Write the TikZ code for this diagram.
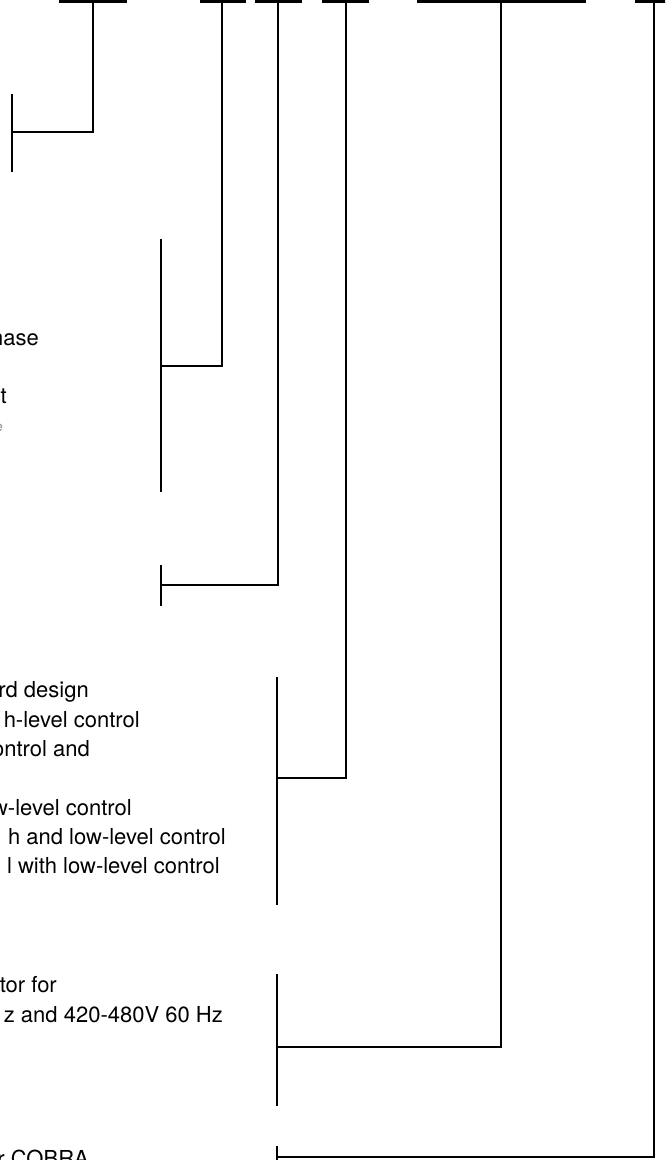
\documentclass[tikz,border=0pt]{standalone}
\usepackage{fontspec}
\setmainfont{TeX Gyre Heros}
\begin{document}
\begin{tikzpicture}[x=1pt,y=-1pt,
  wire/.style={line width=1.6pt,line cap=butt},
  topbar/.style={line width=5.4pt},
  lbl/.style={anchor=base east,inner sep=0pt,font=\fontsize{22}{29}\selectfont},
  tiny/.style={anchor=base east,inner sep=0pt,font=\fontsize{14}{16}\selectfont,text=black!45}]
\useasboundingbox (0,0) rectangle (665,1160);
\clip (0,0) rectangle (665,1160);
% top bars
\coordinate (b1l) at (59,0);  \coordinate (b1r) at (127,0); \coordinate (b1) at (93,0);
\coordinate (b2l) at (200,0); \coordinate (b2r) at (246,0); \coordinate (b2) at (222,0);
\coordinate (b3l) at (255,0); \coordinate (b3r) at (302,0); \coordinate (b3) at (278,0);
\coordinate (b4l) at (322,0); \coordinate (b4r) at (369,0); \coordinate (b4) at (346,0);
\coordinate (b5l) at (417,0); \coordinate (b5r) at (586,0); \coordinate (b5) at (501,0);
\coordinate (b6l) at (635,0); \coordinate (b6r) at (670,0); \coordinate (b6) at (654,0);
\foreach \i in {1,...,6} {\draw[topbar] (b\i l) -- (b\i r);}
% elbows
\coordinate (e1) at (93,132);   \coordinate (k1) at (12,132);
\coordinate (e2) at (222,366);  \coordinate (k2) at (161,366);
\coordinate (e3) at (278,585);  \coordinate (k3) at (161,585);
\coordinate (e4) at (346,778);  \coordinate (k4) at (277,778);
\coordinate (e5) at (501,1047); \coordinate (k5) at (277,1047);
\coordinate (e6) at (654,1157); \coordinate (k6) at (277,1157);
\foreach \i in {1,...,6} {\draw[wire] (b\i) -- (e\i) -- (k\i);}
% brackets
\coordinate (t1) at (12,94);   \coordinate (u1) at (12,172);
\coordinate (t2) at (161,239); \coordinate (u2) at (161,492);
\coordinate (t3) at (161,565); \coordinate (u3) at (161,606);
\coordinate (t4) at (277,677); \coordinate (u4) at (277,905);
\coordinate (t5) at (277,974); \coordinate (u5) at (277,1106);
\coordinate (t6) at (277,1146); \coordinate (u6) at (277,1165);
\foreach \i in {1,...,6} {\draw[wire] (t\i) -- (u\i);}
% texts
\node[lbl] (x1) at (39,345) {hase};
\node[lbl] (x2) at (7,403) {t};
\node[tiny] (x3) at (3,431) {e};
\node[lbl] (x4) at (89,697) {rd design};
\node[lbl] (x5) at (140,727) {h-level control};
\node[lbl] (x6) at (90,756) {ontrol and};
\node[lbl] (x7) at (132,815) {w-level control};
\node[lbl] (x8) at (226,844) {h and low-level control};
\node[lbl] (x9) at (220,873) {l with low-level control};
\node[lbl] (x10) at (57,992) {tor for};
\node[lbl] (x11) at (223,1022) {z and 420-480V 60 Hz};
\node[lbl] (x12) at (89,1166) {r COBRA};
\end{tikzpicture}
\end{document}
